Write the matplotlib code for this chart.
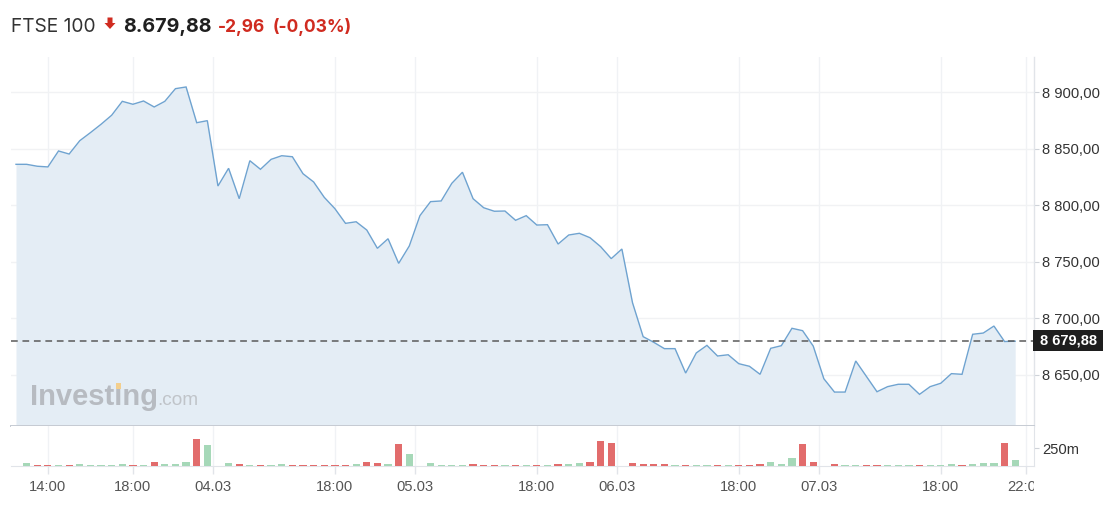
import matplotlib
matplotlib.use('Agg')
import matplotlib.pyplot as plt
from matplotlib.patches import Polygon, Rectangle
from matplotlib.transforms import Bbox, TransformedBbox, blended_transform_factory
import numpy as np

# ---------------- data ----------------
close = [8836.3, 8836.3, 8834.6, 8834.0, 8848.1, 8845.4, 8857.2, 8864.3, 8871.7, 8879.7,
         8892.0, 8889.4, 8892.3, 8887.0, 8892.0, 8903.2, 8904.7, 8873.1, 8874.9, 8817.1,
         8832.8, 8805.9, 8839.5, 8831.9, 8840.7, 8843.9, 8843.0, 8828.0, 8820.7, 8807.1,
         8797.1, 8784.1, 8785.5, 8778.2, 8762.0, 8770.5, 8748.7, 8764.1, 8790.9, 8803.3,
         8803.9, 8819.5, 8829.3, 8805.9, 8797.9, 8794.8, 8795.0, 8786.8, 8790.9, 8782.6,
         8782.9, 8765.8, 8773.8, 8775.3, 8771.4, 8763.5, 8752.9, 8761.4, 8713.9, 8683.9,
         8678.9, 8673.3, 8673.3, 8651.7, 8669.5, 8676.2, 8666.8, 8667.9, 8660.0, 8657.7,
         8650.6, 8673.6, 8675.9, 8691.3, 8689.2, 8675.6, 8646.7, 8634.9, 8634.9, 8662.4,
         8648.8, 8635.2, 8639.7, 8641.8, 8641.8, 8632.9, 8639.7, 8642.7, 8651.2, 8650.6,
         8686.0, 8687.1, 8693.3, 8679.6, 8679.88]

volume = [0, 42, 14, 14, 10, 14, 23, 10, 10, 10,
          23, 10, 10, 61, 23, 23, 61, 381, 292, 0,
          42, 28, 10, 10, 10, 23, 10, 10, 10, 10,
          10, 10, 23, 61, 42, 28, 311, 169, 0, 42,
          10, 10, 10, 28, 14, 14, 10, 14, 10, 14,
          10, 28, 28, 42, 61, 348, 329, 0, 42, 28,
          28, 28, 10, 14, 10, 10, 14, 10, 14, 14,
          28, 61, 28, 113, 311, 61, 0, 28, 10, 10,
          14, 14, 10, 10, 10, 14, 10, 10, 23, 14,
          28, 42, 42, 330, 85]

x_tick_pos = [3, 11, 18.5, 30, 37.5, 49, 56.5, 68, 75.5, 87, 95]
x_tick_labels = ['14:00', '18:00', '04.03', '18:00', '05.03', '18:00',
                 '06.03', '18:00', '07.03', '18:00', '22:00']
price_ticks = [8650, 8700, 8750, 8800, 8850, 8900]
vol_ticks = [250]
vol_tick_labels = ['250m']

title_name = 'FTSE 100'
title_last = '8.679,88'
title_change = '-2,96'
title_pct = '(-0,03%)'
last_price = close[-1]

# ---------------- layout ----------------
W, H = 1116, 509
fig = plt.figure(figsize=(W / 100, H / 100), dpi=100)
fig.patch.set_facecolor('white')

def fx(px):
    return px / W

def fy(py):
    return 1 - py / H

L, R = 11, 1034
TOP, PB, VB = 57, 426, 466
ax = fig.add_axes([fx(L), fy(PB), (R - L) / W, (PB - TOP) / H])
axv = fig.add_axes([fx(L), fy(VB), (R - L) / W, (VB - PB) / H], sharex=ax)

AX_FONT = ['Liberation Sans', 'DejaVu Sans']
HDR_FONT = ['Inter', 'DejaVu Sans']

x = np.arange(len(close))
ymin, ymax = 8604.9, 8931.2

# price area
ax.fill_between(x, close, ymin, color='#e4edf5', lw=0, zorder=2)
ax.plot(x, close, color='#6fa3d0', lw=1.0, zorder=3, solid_joinstyle='miter')
ax.axhline(last_price, color='#5a5a5a', lw=1.1, ls=(0, (4.4, 3.1)), zorder=4)
ax.set_xlim(-0.47, 95.77)
ax.set_ylim(ymin, ymax)

ax.set_yticks(price_ticks)
ax.set_yticklabels([f"{v:,.2f}".replace(',', ' ').replace('.', ',') for v in price_ticks])
ax.yaxis.tick_right()
ax.tick_params(axis='y', length=3.5, width=0.8, color='#cfd3d9', labelsize=10.6,
               labelcolor='#333333', pad=2.5)
for lab in ax.get_yticklabels():
    lab.set_fontfamily(AX_FONT)
ax.set_xticks(x_tick_pos)
ax.tick_params(axis='x', length=0, labelbottom=False)
ax.grid(axis='y', color='#f1f2f4', lw=1.0, zorder=0)
ax.grid(axis='x', color='#f0f2f5', lw=1.0, zorder=0)
for s in ['top', 'left']:
    ax.spines[s].set_visible(False)
ax.spines['right'].set_color('#e1e4e9')
ax.spines['right'].set_linewidth(1.0)
ax.spines['bottom'].set_color('#c6cbd3')
ax.spines['bottom'].set_linewidth(1.4)
ax.spines['bottom'].set_zorder(5)

# last price tag
bt = blended_transform_factory(fig.transFigure, ax.transData)
half_h = 10.3 / ((PB - TOP) / (ymax - ymin))
tag = Rectangle((fx(1033), last_price - half_h + 0.6), fx(1103) - fx(1033), 2 * half_h,
                transform=bt, facecolor='#1e1e1e', edgecolor='none', clip_on=False, zorder=6)
ax.add_artist(tag)
ax.text(fx(1068), last_price + 0.6, f"{last_price:,.2f}".replace(',', ' ').replace('.', ','),
        transform=bt, ha='center', va='center', color='white', fontsize=10.5,
        fontweight='bold', family=AX_FONT, clip_on=False, zorder=7)

# volume
colors = ['#a6d8b8' if i == 0 or close[i] >= close[i - 1] else '#e26c6c' for i in range(len(close))]
axv.bar(x, volume, width=0.68, color=colors, zorder=3)
axv.set_ylim(0, 564.8)
axv.set_yticks(vol_ticks)
axv.set_yticklabels(vol_tick_labels)
axv.yaxis.tick_right()
axv.tick_params(axis='y', length=3.5, width=0.8, color='#cfd3d9', labelsize=10.6,
                labelcolor='#333333', pad=2.5)
axv.set_xticks(x_tick_pos)
axv.set_xticklabels(x_tick_labels)
axv.tick_params(axis='x', length=6, width=1.0, color='#e1e4e9', labelsize=10.6,
                labelcolor='#555555', pad=4)
axv.grid(axis='x', color='#f0f2f5', lw=1.0, zorder=0)
for s in ['top', 'left']:
    axv.spines[s].set_visible(False)
axv.spines['right'].set_color('#e1e4e9')
axv.spines['bottom'].set_color('#e1e4e9')
clipbox = TransformedBbox(Bbox([[0, 0], [fx(R), 1]]), fig.transFigure)
for lab in axv.get_xticklabels() + axv.get_yticklabels():
    lab.set_fontfamily(AX_FONT)
for lab in axv.get_xticklabels():
    lab.set_clip_box(clipbox)
    lab.set_clip_on(True)

# watermark
fig.text(fx(30), fy(405), 'Investing', fontsize=21, fontweight='bold', color='#b7bbc1',
         family=AX_FONT, ha='left', va='baseline')
fig.text(fx(157), fy(405), '.com', fontsize=13.7, color='#c0c4c9',
         family=AX_FONT, ha='left', va='baseline')
fig.add_artist(Rectangle((fx(115.5), fy(388.5)), 5.5 / W, 5.8 / H,
                         transform=fig.transFigure, facecolor='#f3cf8e', edgecolor='none', zorder=4))

# header
base = fy(31.5)
fig.text(fx(11), base, title_name, fontsize=13.8, color='#333333', family=HDR_FONT,
         ha='left', va='baseline')
arrow = [(107.5, 17.5), (112.5, 17.5), (112.5, 23), (115.5, 23), (110, 29), (104.5, 23), (107.5, 23)]
fig.add_artist(Polygon([(fx(a), fy(b)) for a, b in arrow], closed=True,
                       transform=fig.transFigure, facecolor='#d02b20', edgecolor='none'))
fig.text(fx(123), base, title_last, fontsize=14.2, fontweight='bold', color='#1f1f1f',
         family=HDR_FONT, ha='left', va='baseline')
fig.text(fx(218), base, title_change, fontsize=12.5, fontweight='bold', color='#d02b20',
         family=HDR_FONT, ha='left', va='baseline')
fig.text(fx(273), base, title_pct, fontsize=12.5, fontweight='bold', color='#d02b20',
         family=HDR_FONT, ha='left', va='baseline')

fig.savefig('out.png', dpi=100, facecolor='white')
